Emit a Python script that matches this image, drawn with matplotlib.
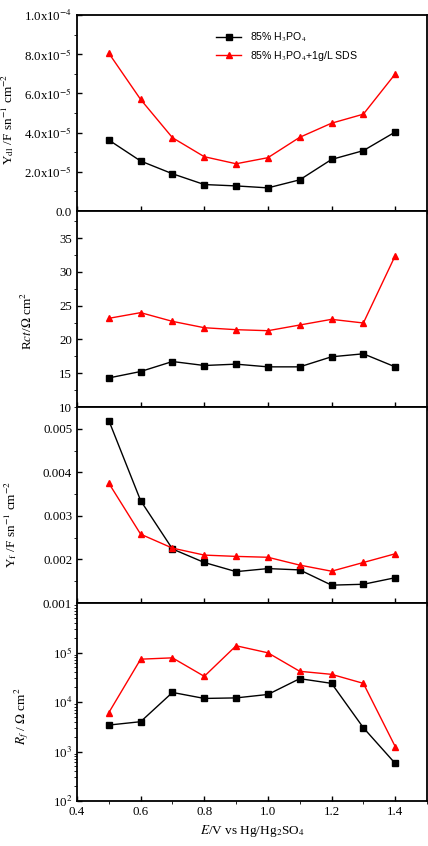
import matplotlib
matplotlib.use('Agg')
import matplotlib.pyplot as plt
from matplotlib.ticker import MultipleLocator, FixedLocator, LogLocator, NullFormatter

plt.rcParams['font.family'] = ['Liberation Serif', 'DejaVu Serif']
plt.rcParams['mathtext.fontset'] = 'stix'

# potential E / V vs Hg/Hg2SO4
E = [0.5, 0.6, 0.7, 0.8, 0.9, 1.0, 1.1, 1.2, 1.3, 1.4]

# double layer admittance
ydl_h3po4 = [3.62e-5, 2.55e-5, 1.90e-5, 1.35e-5, 1.28e-5, 1.18e-5, 1.59e-5, 2.63e-5, 3.08e-5, 4.03e-5]
ydl_sds = [8.05e-5, 5.69e-5, 3.74e-5, 2.77e-5, 2.41e-5, 2.72e-5, 3.76e-5, 4.48e-5, 4.94e-5, 6.99e-5]

# charge transfer resistance
rct_h3po4 = [14.3, 15.25, 16.73, 16.14, 16.34, 15.94, 15.94, 17.43, 17.87, 15.94]
rct_sds = [23.12, 23.96, 22.67, 21.73, 21.44, 21.29, 22.13, 22.97, 22.43, 32.38]

# film admittance
yf_h3po4 = [0.00519, 0.00335, 0.00224, 0.00193, 0.00172, 0.00179, 0.00176, 0.00141, 0.00143, 0.00158]
yf_sds = [0.00375, 0.00258, 0.00226, 0.00210, 0.00207, 0.00205, 0.00187, 0.00173, 0.00193, 0.00213]

# film resistance
rf_h3po4 = [3420, 4000, 15600, 11800, 12100, 14200, 29600, 23800, 3020, 575]
rf_sds = [6100, 73300, 78000, 33000, 136800, 98600, 41700, 36200, 23800, 1260]

fig = plt.figure(figsize=(4.28, 8.46), dpi=100)

left = 77 / 428
width = 350 / 428
tops = [15, 211, 407, 603]
bots = [211, 407, 603, 801]
axes = []
for t, b in zip(tops, bots):
    ax = fig.add_axes([left, 1 - b / 846, width, (b - t) / 846])
    axes.append(ax)

blk = dict(color='black', marker='s', markersize=4.2, linewidth=1.0)
red = dict(color='red', marker='^', markersize=5.0, linewidth=1.0)

series = [(ydl_h3po4, ydl_sds), (rct_h3po4, rct_sds), (yf_h3po4, yf_sds), (rf_h3po4, rf_sds)]
for ax, (s1, s2) in zip(axes, series):
    ax.plot(E, s1, label='85% H$_3$PO$_4$', **blk)
    ax.plot(E, s2, label='85% H$_3$PO$_4$+1g/L SDS', **red)
    ax.set_xlim(0.4, 1.5)
    ax.xaxis.set_major_locator(MultipleLocator(0.2))
    ax.xaxis.set_minor_locator(MultipleLocator(0.1))
    ax.tick_params(direction='in', labelsize=9.3, width=1.0)
    ax.tick_params(which='major', length=3.5)
    ax.tick_params(which='minor', length=2)
    for sp in ax.spines.values():
        sp.set_linewidth(1.3)
    if ax is not axes[-1]:
        ax.tick_params(axis='x', labelbottom=False)

# panel 1
ax = axes[0]
ax.set_ylim(0, 1.0e-4)
yt = [0, 2e-5, 4e-5, 6e-5, 8e-5, 1e-4]
ax.yaxis.set_major_locator(FixedLocator(yt))
ax.set_yticklabels(['0.0', '2.0x10$^{-5}$', '4.0x10$^{-5}$', '6.0x10$^{-5}$', '8.0x10$^{-5}$', '1.0x10$^{-4}$'])
ax.yaxis.set_minor_locator(MultipleLocator(1e-5))
ax.set_ylabel('Y$_{\\rm dl}$ /F sn$^{-1}$ cm$^{-2}$', fontsize=9.5)
ax.yaxis.set_label_coords(-0.175, 0.47)
leg = ax.legend(loc='upper left', bbox_to_anchor=(0.37, 0.97), frameon=False,
                prop={'family': 'Liberation Sans', 'size': 7.6}, handlelength=2.4,
                labelspacing=0.5)

# panel 2
ax = axes[1]
ax.set_ylim(10, 39)
ax.yaxis.set_major_locator(MultipleLocator(5))
ax.yaxis.set_minor_locator(MultipleLocator(2.5))
ax.set_ylabel('R$\\it{ct}$/$\\Omega$ cm$^{2}$', fontsize=9.5)
ax.yaxis.set_label_coords(-0.12, 0.44)

# panel 3
ax = axes[2]
ax.set_ylim(0.001, 0.0055)
ax.yaxis.set_major_locator(FixedLocator([0.001, 0.002, 0.003, 0.004, 0.005]))
ax.set_yticklabels(['0.001', '0.002', '0.003', '0.004', '0.005'])
ax.yaxis.set_minor_locator(MultipleLocator(0.0005))
ax.set_ylabel('Y$_{\\rm f}$ /F sn$^{-1}$ cm$^{-2}$', fontsize=9.5)
ax.yaxis.set_label_coords(-0.165, 0.40)

# panel 4
ax = axes[3]
ax.set_yscale('log')
ax.set_ylim(100, 1e6)
ax.yaxis.set_major_locator(FixedLocator([1e2, 1e3, 1e4, 1e5]))
ax.set_yticklabels(['10$^{2}$', '10$^{3}$', '10$^{4}$', '10$^{5}$'])
ax.yaxis.set_minor_locator(LogLocator(base=10, subs=range(2, 10)))
ax.yaxis.set_minor_formatter(NullFormatter())
ax.set_ylabel('$R_f$ / $\\Omega$ cm$^{2}$', fontsize=9.5)
ax.yaxis.set_label_coords(-0.13, 0.43)
ax.set_xlabel('$E$/V vs Hg/Hg$_2$SO$_4$', fontsize=9.5)

fig.savefig('out.png', dpi=100)
